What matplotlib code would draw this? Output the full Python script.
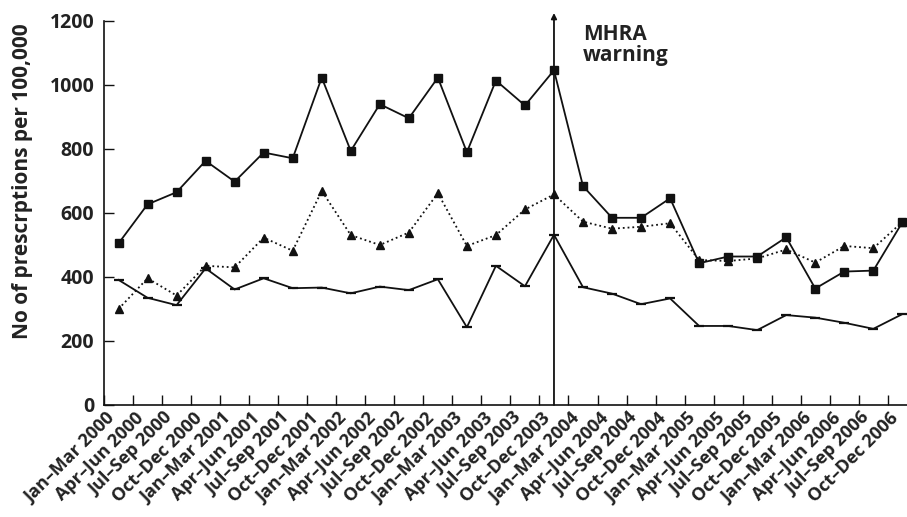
import numpy as np
import matplotlib
matplotlib.use('Agg')
import matplotlib.pyplot as plt

plt.rcParams['font.family'] = ['Open Sans', 'DejaVu Sans']

quarters = ['Jan\u2013Mar', 'Apr\u2013Jun', 'Jul\u2013Sep', 'Oct\u2013Dec']
years = [2000, 2001, 2002, 2003, 2004, 2005, 2006]
labels = [f'{q} {y}' for y in years for q in quarters]

# values
squares = [505, 627, 665, 763, 698, 789, 771, 1023, 794, 940, 896, 1023,
           790, 1014, 936, 1046, 684, 585, 585, 646, 443, 464, 464, 524,
           364, 417, 420, 571]
triangles = [300, 396, 342, 435, 430, 523, 482, 669, 531, 500, 539, 662,
             497, 531, 611, 658, 573, 551, 557, 568, 453, 450, 458, 486,
             445, 497, 490, 572]
dashes = [391, 335, 312, 427, 361, 396, 365, 367, 349, 370, 359, 393,
          243, 435, 371, 532, 368, 348, 315, 333, 247, 247, 234, 281,
          273, 257, 238, 284]
warning_idx = 15

fig = plt.figure(figsize=(9.07, 5.17), dpi=100)
ax = fig.add_axes([104 / 907, 1 - 405 / 517, (907 - 104) / 907, 384 / 517])

x = np.arange(len(labels))
ax.plot(x, squares, '-', color='#111111', lw=1.3, marker='s', ms=5.5)
ax.plot(x, triangles, ':', color='#111111', lw=1.3, marker='^', ms=6)
ax.plot(x, dashes, '-', color='#111111', lw=1.3, marker='_', ms=7, mew=1.6)

# warning line with arrow
ax.annotate('', xy=(warning_idx, 1225), xytext=(warning_idx, 0),
            arrowprops=dict(arrowstyle='-|>', color='#111111', lw=1.3,
                            mutation_scale=8, shrinkA=0, shrinkB=0),
            annotation_clip=False)
ax.text(warning_idx + 1.0, 1190, 'MHRA\nwarning', fontsize=15,
        fontweight='bold', color='#222222', va='top', ha='left',
        linespacing=1.0)

ax.set_xlim(-0.5, 27.16)
ax.set_ylim(0, 1200)
ax.set_yticks(range(0, 1201, 200))
ax.set_xticks(np.arange(-0.5, 27.5, 1))
ax.set_xticklabels([])
# category labels, slightly left of each point like the original
ax.set_xticks(x - 0.1, minor=True)
ax.set_xticklabels(labels, minor=True, rotation=45, ha='right', va='baseline',
                   rotation_mode='anchor', fontsize=13, fontweight='bold',
                   color='#222222')
ax.tick_params(axis='x', which='minor', length=0, pad=10)
ax.tick_params(axis='both', which='major', direction='in', length=7,
               width=1, color='#111111')
ax.tick_params(axis='y', labelsize=14, pad=7, labelcolor='#222222')
for lab in ax.get_yticklabels():
    lab.set_fontweight('bold')

for s in ['top', 'right']:
    ax.spines[s].set_visible(False)
for s in ['left', 'bottom']:
    ax.spines[s].set_linewidth(1.2)
    ax.spines[s].set_color('#111111')

ax.set_ylabel('No of prescrptions per 100,000', fontsize=15,
              fontweight='bold', color='#222222')
ax.yaxis.set_label_coords(-0.088, 0.583)

fig.savefig('out.png', dpi=100)
